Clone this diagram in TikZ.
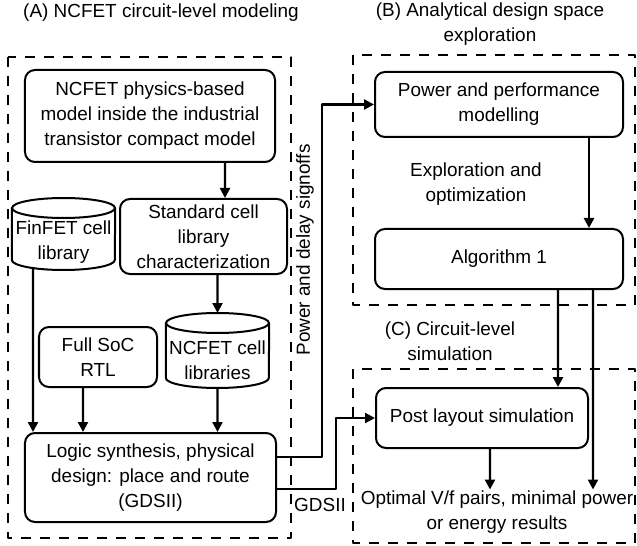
\documentclass[tikz,border=0pt]{standalone}
\usepackage{fontspec}
\setmainfont{Liberation Sans}
\usepackage{tikz}
\usetikzlibrary{calc}
\usetikzlibrary{arrows.meta}
\tikzstyle{every node}=[font=\fontsize{19}{25}\selectfont]
\tikzstyle{blk}=[draw,rounded corners=10bp,line width=2bp,align=center,inner sep=2bp]
\tikzstyle{lib}=[minimum width=103bp,inner sep=0bp,align=center]
\tikzstyle{arr}=[->,line width=2.3bp]
\tikzstyle{grp}=[line width=2.7bp,line cap=butt,dash pattern=on 10bp off 9bp]
\newcommand{\drum}[3]{
  \draw [line width=2bp] (#1.west |- 0,#2) -- (#1.west |- 0,#3) arc [start angle=180,end angle=0,x radius=51.5,y radius=10] -- (#1.east |- 0,#2);
  \draw [line width=2bp] (#1.center |- 0,#2) ellipse [x radius=51.5,y radius=10];
}
\begin{document}
\begin{tikzpicture}[line cap=round,line join=round,>={Triangle[length=10bp,width=10bp]},x=1bp,y=-1bp]
\useasboundingbox (0,0) rectangle (637,546);
\node (tA) at (161,13) {(A) NCFET circuit-level modeling};
\node [align=center] (tB) at (490,24) {(B) Analytical design space\\exploration};
\node [align=center] (tC) at (450,341) {(C) Circuit-level\\simulation};
\draw [grp] (8,57) rectangle (291,538);
\draw [grp] (353,55) rectangle (635,305);
\draw [grp] (353,369) rectangle (635,543);
\node [blk,minimum width=250bp,minimum height=92bp] (phys) at (150,116) {NCFET physics-based\\model inside the industrial\\transistor compact model};
\node [blk,minimum width=167bp,minimum height=75bp] (std) at (203.5,236.5) {Standard cell\\library\\characterization};
\node [lib] (fin) at (63.5,242) {FinFET cell\\library};
\node [blk,minimum width=118bp,minimum height=60bp] (soc) at (98,357) {Full SoC\\RTL};
\node [lib] (ncl) at (217.5,360) {NCFET cell\\libraries};
\node [blk,minimum width=251bp,minimum height=89bp] (logic) at (150.5,477.5) {Logic synthesis, physical\\design: place and route\\(GDSII)};
\node [blk,minimum width=248bp,minimum height=65bp] (pwr) at (499,104.5) {Power and performance\\modelling};
\node [align=center] (expl) at (476,184) {Exploration and\\optimization};
\node [blk,minimum width=248bp,minimum height=60bp] (alg) at (499,259) {Algorithm 1};
\node [blk,minimum width=212bp,minimum height=60bp] (post) at (482,418) {Post layout simulation};
\node [align=center,inner sep=1bp] (res) at (497,512) {Optimal V/f pairs, minimal power\\or energy results};
\node [rotate=90] (sig) at (305,250) {Power and delay signoffs};
\node (gds) at (320,505) {GDSII};
\drum{fin}{208}{260}
\drum{ncl}{323}{378}
\draw [arr] ([xshift=75bp]phys.south) -- ([xshift=21.5bp]std.north);
\draw [arr] ($(fin.center)+(-30.5,26)$) -- ([xshift=-117.5bp]logic.north);
\draw [arr] ([xshift=-15bp]soc.south) -- ([xshift=-67.5bp]logic.north);
\draw [arr] ([xshift=14bp]std.south) -- ($(ncl.center)+(0,-47)$);
\draw [arr] ($(ncl.center)+(0,28)$) -- ([xshift=67bp]logic.north);
\draw [arr] ([xshift=90bp]pwr.south) -- ([xshift=90bp]alg.north);
\draw [arr] ([xshift=59bp]alg.south) -- ([xshift=76bp]post.north);
\draw [arr] ([xshift=94bp]alg.south) -- ([xshift=96bp]res.north);
\draw [arr] ([xshift=8bp]post.south) -- ([xshift=-7bp]res.north);
\draw [arr] ([yshift=20.5bp]logic.east) -- ++(45,0) |- (pwr.west);
\draw [arr] ([yshift=-11.5bp]logic.east) -- ++(59,0) |- (post.west);
\end{tikzpicture}
\end{document}
